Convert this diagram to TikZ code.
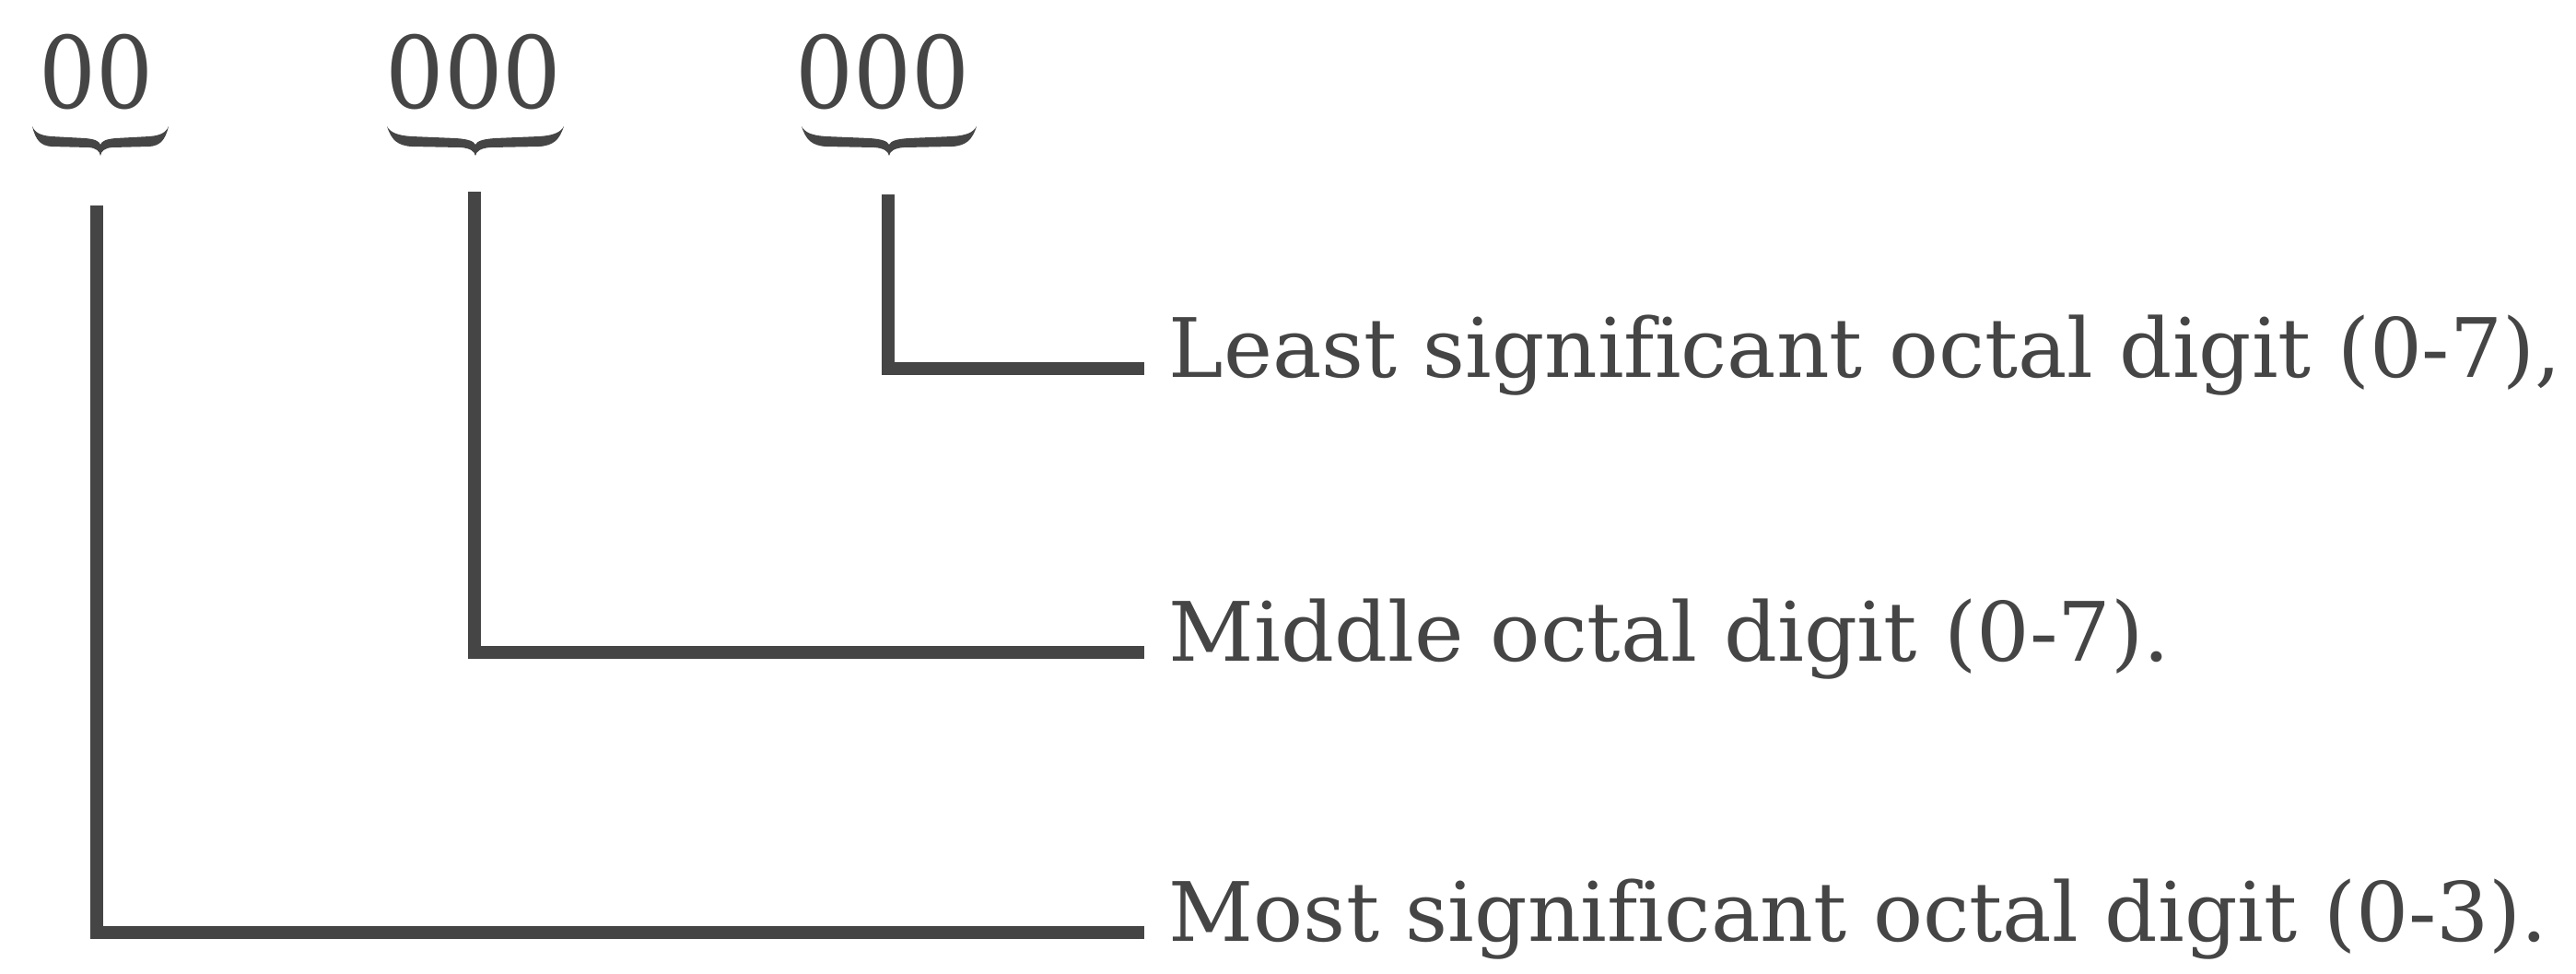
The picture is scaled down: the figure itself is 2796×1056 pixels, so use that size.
\documentclass[tikz,border=0pt]{standalone}
\usepackage{fontspec}
\setmainfont[Ligatures=NoCommon]{DejaVu Serif}
\usepackage{graphicx}
\definecolor{ink}{HTML}{454545}
\tikzset{
  lbl/.style={anchor=mid west, inner xsep=0.26cm, inner ysep=0, text=ink, font=\fontsize{25.3}{30}\selectfont},
  dig/.style={anchor=base, inner sep=0, text=ink, font=\fontsize{30.8}{36}\selectfont},
  lead/.style={draw=ink, line width=0.14cm},
}
\newcommand\octbrace[3]{%
\fill[ink] ({#1-#2},{#3})
 .. controls ({#1-0.96*#2},{#3+7}) and ({#1-0.88*#2},{#3+10}) .. ({#1-0.72*#2},{#3+11})
 -- ({#1-0.22*#2},{#3+13})
 .. controls ({#1-0.08*#2},{#3+14}) and ({#1-0.02*#2},{#3+16}) .. ({#1},{#3+20})
 .. controls ({#1+0.02*#2},{#3+16}) and ({#1+0.08*#2},{#3+14}) .. ({#1+0.22*#2},{#3+13})
 -- ({#1+0.72*#2},{#3+11})
 .. controls ({#1+0.88*#2},{#3+10}) and ({#1+0.96*#2},{#3+7}) .. ({#1+#2},{#3})
 .. controls ({#1+0.95*#2},{#3+15}) and ({#1+0.88*#2},{#3+21}) .. ({#1+0.72*#2},{#3+22})
 -- ({#1+0.16*#2},{#3+23})
 .. controls ({#1+0.06*#2},{#3+24}) and ({#1+0.01*#2},{#3+27}) .. ({#1},{#3+32})
 .. controls ({#1-0.01*#2},{#3+27}) and ({#1-0.06*#2},{#3+24}) .. ({#1-0.16*#2},{#3+23})
 -- ({#1-0.72*#2},{#3+22})
 .. controls ({#1-0.88*#2},{#3+21}) and ({#1-0.95*#2},{#3+15}) .. cycle;}
\begin{document}
\begin{tikzpicture}[x=0.01cm,y=-0.01cm]
\fill[white] (0,0) rectangle (2796,1056);
\useasboundingbox (0,0) rectangle (2796,1056);
% digit groups
\node[dig] (d1) at (105,117) {\resizebox{1.24cm}{\height}{00}};
\node[dig] (d2) at (514,117) {\resizebox{1.91cm}{\height}{000}};
\node[dig] (d3) at (958,117) {\resizebox{1.89cm}{\height}{000}};
% braces
\octbrace{109}{74}{137}
\octbrace{516}{96}{137}
\octbrace{965}{95}{137}
% labels
\node[lbl] (l1) at (1242,400) {\resizebox{15.10cm}{\height}{Least significant octal digit (0-7),}};
\node[lbl] (l2) at (1242,708) {\resizebox{10.86cm}{\height}{Middle octal digit (0-7).}};
\node[lbl] (l3) at (1242,1012) {\resizebox{14.96cm}{\height}{Most significant octal digit (0-3).}};
% leader lines
\coordinate (t1) at (105,223);
\coordinate (t2) at (515,208);
\coordinate (t3) at (964,211);
\draw[lead] (t1) |- (l3.mid west);
\draw[lead] (t2) |- (l2.mid west);
\draw[lead] (t3) |- (l1.mid west);
\end{tikzpicture}
\end{document}
